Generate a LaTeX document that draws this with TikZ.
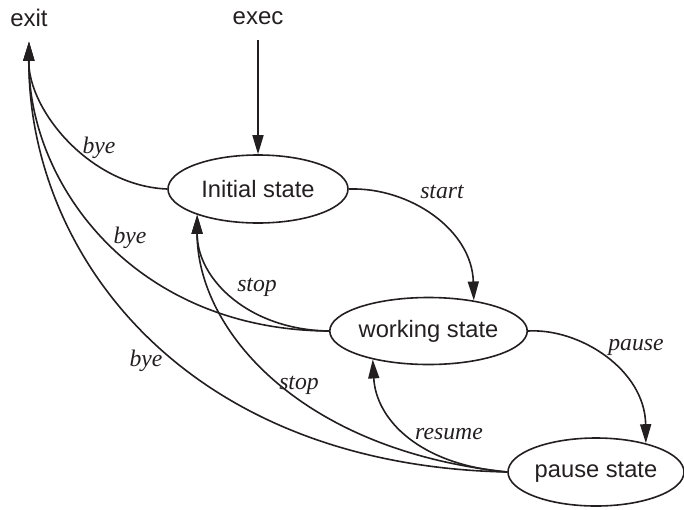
\documentclass[tikz,border=0pt]{standalone}
\usepackage{fontspec}
\setmainfont{Liberation Serif}
\newfontfamily\diagsans{Liberation Sans}
\usetikzlibrary{arrows.meta,shapes.geometric}
\definecolor{ink}{RGB}{35,31,32}
\begin{document}
\begin{tikzpicture}[x=1pt,y=-1pt,color=ink,
  conn/.style={line width=1.6pt,-{Triangle[length=19pt,width=11pt]}},
  statebox/.style={ellipse,draw,line width=1.6pt,inner sep=0pt,
    minimum width=180pt,minimum height=68pt,
    font=\diagsans\fontsize{23.7}{28}\selectfont},
  endpt/.style={inner sep=0pt,outer ysep=15pt,
    font=\diagsans\fontsize{24}{28}\selectfont},
  lbl/.style={inner sep=0pt,font=\itshape\fontsize{23.7}{28}\selectfont}]
\useasboundingbox (0,0) rectangle (684,509);

% entry / exit points
\node[endpt] (exit) at (29,18) {exit};
\node[endpt] (exec) at (258,18) {exec};

% states
\node[statebox] (init) at (258,189) {Initial state};
\node[statebox,minimum width=179pt,minimum height=67pt] (work) at (428.5,331) {working state};
\node[statebox,minimum width=176pt] (pause) at (596,472) {pause state};

% transitions
\draw[conn] (exec.south) -- (init.north);
\draw[conn] (init.west) .. controls (90,186) and (28,110) .. (exit.south);
\draw[conn] (work.west) .. controls (135,330) and (28,185) .. (exit.south);
\draw[conn] (pause.west) .. controls (180,465) and (28,250) .. (exit.south);
\draw[conn] (init.east) .. controls (410,187) and (472,230) .. (work.34);
\draw[conn] (work.east) .. controls (580,328) and (645,370) .. (pause.30);
\draw[conn] (work.west) .. controls (250,330) and (197,280) .. (init.203);
\draw[conn] (pause.west) .. controls (300,450) and (197,330) .. (init.203);
\draw[conn] (pause.west) .. controls (420,465) and (376,420) .. (work.207);

% transition labels
\node[lbl] (byeA) at (99,148) {bye};
\node[lbl] (startl) at (442,192) {start};
\node[lbl] (byeB) at (130,238) {bye};
\node[lbl] (stopA) at (257,287) {stop};
\node[lbl] (byeC) at (146,361) {bye};
\node[lbl] (stopB) at (299,385) {stop};
\node[lbl] (resumel) at (449,434) {resume};
\node[lbl] (pausel) at (636,347) {pause};
\end{tikzpicture}
\end{document}
